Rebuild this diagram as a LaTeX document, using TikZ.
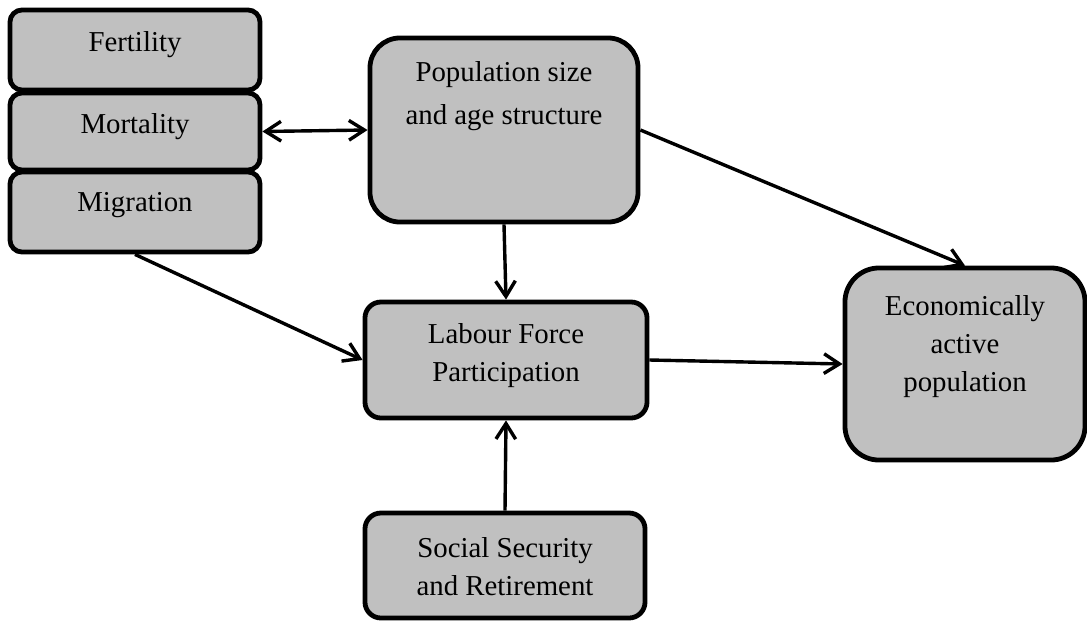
\documentclass[tikz,border=0pt]{standalone}
\usepackage{fontspec}
\setmainfont{Liberation Serif}
\usetikzlibrary{arrows.meta,positioning}
\definecolor{boxgray}{RGB}{192,192,192}
\begin{document}
\begin{tikzpicture}[x=0.025cm,y=-0.025cm,
    box/.style={draw,fill=boxgray,line width=0.12cm,rounded corners=0.3cm,inner sep=0pt},
    txt/.style={align=center,inner sep=0pt,font=\fontsize{20.5}{27}\selectfont},
    link/.style={line width=0.085cm,-{Straight Barb[length=11pt,width=14pt]}},
    twolink/.style={line width=0.085cm,{Straight Barb[length=11pt,width=14pt]}-{Straight Barb[length=11pt,width=14pt]}}]
        \useasboundingbox (0,0) rectangle (1087,620);
        \node[box,minimum width=6.25cm,minimum height=2cm] (fert) at (135,50) {};
        \node[box,minimum width=6.25cm,minimum height=1.925cm] (mort) at (135,131.5) {};
        \node[box,minimum width=6.25cm,minimum height=2cm] (migr) at (135,212) {};
        \node[box,minimum width=6.7cm,minimum height=4.6cm,rounded corners=0.75cm] (pop) at (504,130) {};
        \node[box,minimum width=7.05cm,minimum height=2.9cm,rounded corners=0.4cm] (lab) at (506,360) {};
        \node[box,minimum width=6cm,minimum height=4.8cm,rounded corners=0.85cm] (econ) at (965,364) {};
        \node[box,minimum width=7cm,minimum height=2.625cm,rounded corners=0.4cm] (soc) at (505,565.5) {};
        % texts
        \node[txt] (ferttext) at (135,45) {Fertility};
        \node[txt] (morttext) at (135,127) {Mortality};
        \node[txt] (migrtext) at (135,205) {Migration};
        \node[txt,font=\fontsize{20.5}{31}\selectfont] (poptext) at (504,96) {Population size\\and age structure};
        \node[txt] (labtext) at (506,356) {Labour Force\\Participation};
        \node[txt] (econtext) at (965,347) {Economically\\active\\population};
        \node[txt] (soctext) at (505,567) {Social Security\\and Retirement};
        % links
        \draw[twolink] (mort.east) -- (pop.west);
        \draw[link] (pop.east) -- (econ.north);
        \draw[link] (pop.south) -- (lab.north);
        \draw[link] (migr.south) -- (lab.west);
        \draw[link] (lab.east) -- (econ.west);
        \draw[link] (soc.north) -- (lab.south);
\end{tikzpicture}
\end{document}
